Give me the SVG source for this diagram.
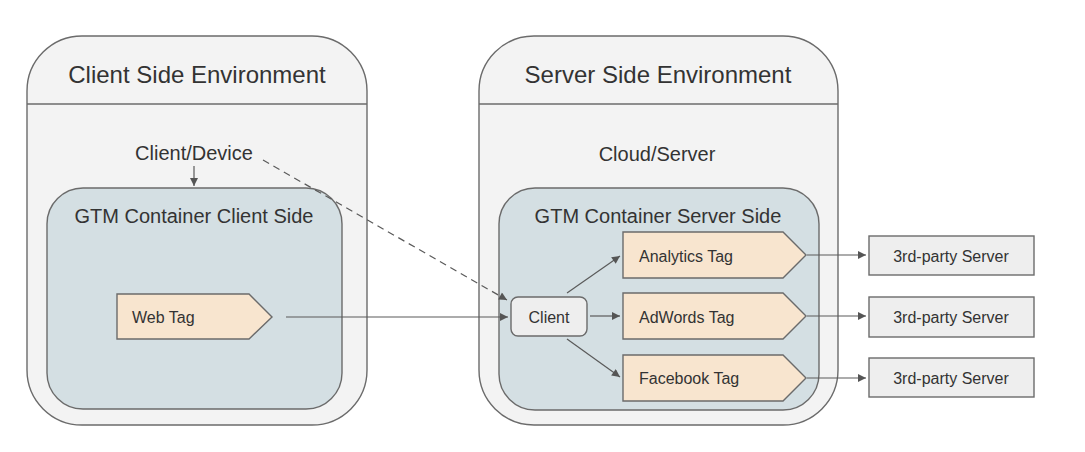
<svg xmlns="http://www.w3.org/2000/svg" width="1085" height="452" viewBox="0 0 1085 452">
<style>
text{font-family:"Liberation Sans",Arial,sans-serif;fill:#333}
.env{fill:#f3f3f3;stroke:#6b6b6b;stroke-width:1.4}
.cont{fill:#d4dfe3;stroke:#6b6b6b;stroke-width:1.4}
.tag{fill:#f8e5cf;stroke:#6b6b6b;stroke-width:1.4}
.box{fill:#eeeeee;stroke:#6b6b6b;stroke-width:1.4}
.t24{font-size:24px}
.t20{font-size:20px}
.t16{font-size:16px}
.ln{fill:none;stroke:#5a5a5a;stroke-width:1.2}
</style>
<defs>
<marker id="ah" viewBox="0 0 10 10" refX="10" refY="5" markerWidth="10" markerHeight="8" markerUnits="userSpaceOnUse" orient="auto">
<path d="M0,0 L10,5 L0,10 Z" fill="#555"/>
</marker>
</defs>
<rect width="1085" height="452" fill="#fff"/>
<g id="client-env">
<rect class="env" x="27" y="36" width="340" height="389" rx="55"/>
<line x1="27" y1="104" x2="367" y2="104" stroke="#6b6b6b" stroke-width="1.4"/>
<text class="t24" x="197" y="83" text-anchor="middle">Client Side Environment</text>
</g>
<g id="client-device">
<text class="t20" x="194" y="160" text-anchor="middle">Client/Device</text>
</g>
<g id="gtm-client">
<rect class="cont" x="47" y="188" width="295" height="221" rx="36"/>
<text class="t20" x="194" y="223" text-anchor="middle">GTM Container Client Side</text>
</g>
<g id="web-tag">
<path class="tag" d="M117,294 H249 L272,317 L249,339 H117 Z"/>
<text class="t16" x="132" y="323">Web Tag</text>
</g>
<g id="server-env">
<rect class="env" x="479" y="36" width="359" height="389" rx="55"/>
<line x1="479" y1="104" x2="838" y2="104" stroke="#6b6b6b" stroke-width="1.4"/>
<text class="t24" x="658" y="83" text-anchor="middle">Server Side Environment</text>
</g>
<g id="cloud-server">
<text class="t20" x="657" y="161" text-anchor="middle">Cloud/Server</text>
</g>
<g id="gtm-server">
<rect class="cont" x="499" y="188" width="320" height="222" rx="36"/>
<text class="t20" x="658" y="223" text-anchor="middle">GTM Container Server Side</text>
</g>
<g id="client">
<rect class="box" x="511" y="297" width="76" height="39" rx="7"/>
<text class="t16" x="549" y="323" text-anchor="middle">Client</text>
</g>
<g id="analytics-tag">
<path class="tag" d="M623,232 H783 L806,255 L783,278 H623 Z"/>
<text class="t16" x="639" y="262">Analytics Tag</text>
</g>
<g id="adwords-tag">
<path class="tag" d="M623,293 H783 L806,316 L783,339 H623 Z"/>
<text class="t16" x="639" y="323">AdWords Tag</text>
</g>
<g id="facebook-tag">
<path class="tag" d="M623,355 H783 L806,378 L783,401 H623 Z"/>
<text class="t16" x="639" y="384">Facebook Tag</text>
</g>
<g id="server1">
<rect class="box" x="869" y="236" width="165" height="39"/>
<text class="t16" x="951" y="262" text-anchor="middle">3rd-party Server</text>
</g>
<g id="server2">
<rect class="box" x="869" y="297" width="165" height="40"/>
<text class="t16" x="951" y="323" text-anchor="middle">3rd-party Server</text>
</g>
<g id="server3">
<rect class="box" x="869" y="358" width="165" height="39"/>
<text class="t16" x="951" y="384" text-anchor="middle">3rd-party Server</text>
</g>
<g id="connectors">
<line class="ln" x1="194" y1="166" x2="194" y2="186" marker-end="url(#ah)"/>
<line class="ln" x1="263" y1="160" x2="507" y2="300" stroke-dasharray="7,5" marker-end="url(#ah)"/>
<line class="ln" x1="286" y1="317" x2="508" y2="317" marker-end="url(#ah)"/>
<line class="ln" x1="567" y1="293" x2="620" y2="256" marker-end="url(#ah)"/>
<line class="ln" x1="590" y1="316" x2="620" y2="316" marker-end="url(#ah)"/>
<line class="ln" x1="567" y1="339" x2="620" y2="377" marker-end="url(#ah)"/>
<line class="ln" x1="807" y1="255" x2="866" y2="255" marker-end="url(#ah)"/>
<line class="ln" x1="807" y1="316" x2="866" y2="316" marker-end="url(#ah)"/>
<line class="ln" x1="807" y1="378" x2="866" y2="378" marker-end="url(#ah)"/>
</g>
</svg>
